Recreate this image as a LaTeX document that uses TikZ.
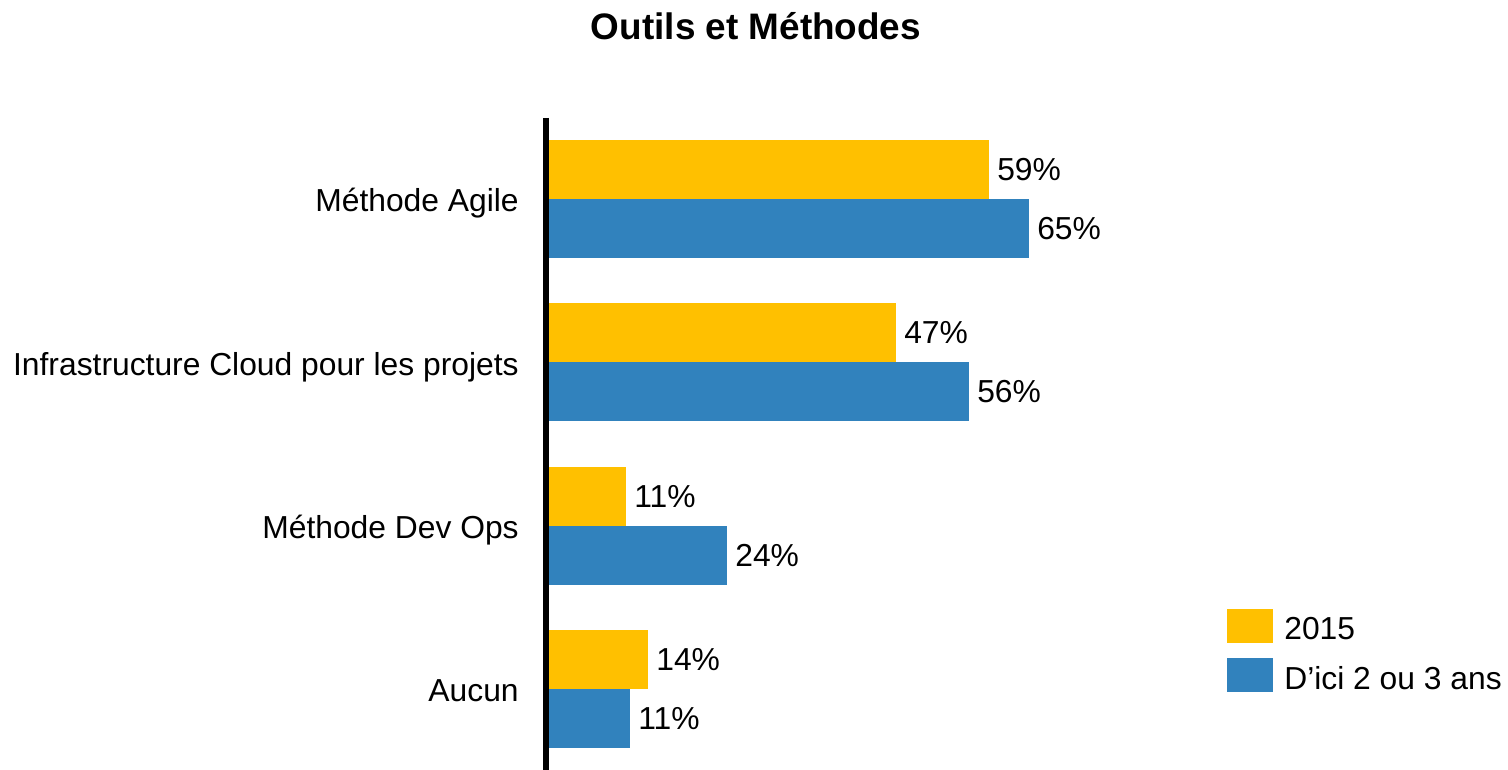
\documentclass[tikz,border=0pt]{standalone}
\usepackage{fontspec}
\setmainfont{Liberation Sans}
\usetikzlibrary{positioning}

\definecolor{yel}{RGB}{255,192,0}
\definecolor{blu}{RGB}{49,130,189}

\tikzset{
  bar/.style={rectangle,inner sep=0pt,outer sep=0pt,minimum height=1.18cm,anchor=north west},
  b15/.style={bar,fill=yel},
  bL/.style={bar,fill=blu},
  txt/.style={inner sep=0pt,font=\fontsize{18.1}{22}\selectfont},
  cat/.style={txt,anchor=base east},
}

\begin{document}
\begin{tikzpicture}[x=0.02cm,y=-0.02cm]
\useasboundingbox (0,0) rectangle (1508,770);

\node[inner sep=0pt,anchor=base,font=\fontsize{21}{25}\selectfont\bfseries](title) at (756,40){Outils et Méthodes};

\draw[line width=0.12cm] (546,118) -- (546,770);

\node[b15,minimum width=8.8cm](ag15) at (549,140){};
\node[bL,minimum width=9.6cm](agL) at (ag15.south west){};
\node[txt,right=0.16cm of ag15](ag15v){59\%};
\node[txt,right=0.16cm of agL](agLv){65\%};
\node[cat](ag) at (519,211.5){Méthode Agile};

\node[b15,minimum width=6.94cm](in15) at (549,303.5){};
\node[bL,minimum width=8.4cm](inL) at (in15.south west){};
\node[txt,right=0.16cm of in15](in15v){47\%};
\node[txt,right=0.16cm of inL](inLv){56\%};
\node[cat](in) at (519,375){Infrastructure Cloud pour les projets};

\node[b15,minimum width=1.54cm](do15) at (549,467){};
\node[bL,minimum width=3.56cm](doL) at (do15.south west){};
\node[txt,right=0.16cm of do15](do15v){11\%};
\node[txt,right=0.16cm of doL](doLv){24\%};
\node[cat](do) at (519,538.5){Méthode Dev Ops};

\node[b15,minimum width=1.98cm](au15) at (549,630){};
\node[bL,minimum width=1.62cm](auL) at (au15.south west){};
\node[txt,right=0.16cm of au15](au15v){14\%};
\node[txt,right=0.16cm of auL](auLv){11\%};
\node[cat](au) at (519,701.5){Aucun};

% legende
\node[b15,minimum width=0.92cm,minimum height=0.68cm](key15) at (1227,609){};
\node[bL,minimum width=0.92cm,minimum height=0.68cm](keyL) at (1227,658){};
\node[txt,right=0.22cm of key15,yshift=-0.06cm](key15t){2015};
\node[txt,right=0.22cm of keyL,yshift=-0.06cm](keyLt){D’ici 2 ou 3 ans};

\end{tikzpicture}
\end{document}
